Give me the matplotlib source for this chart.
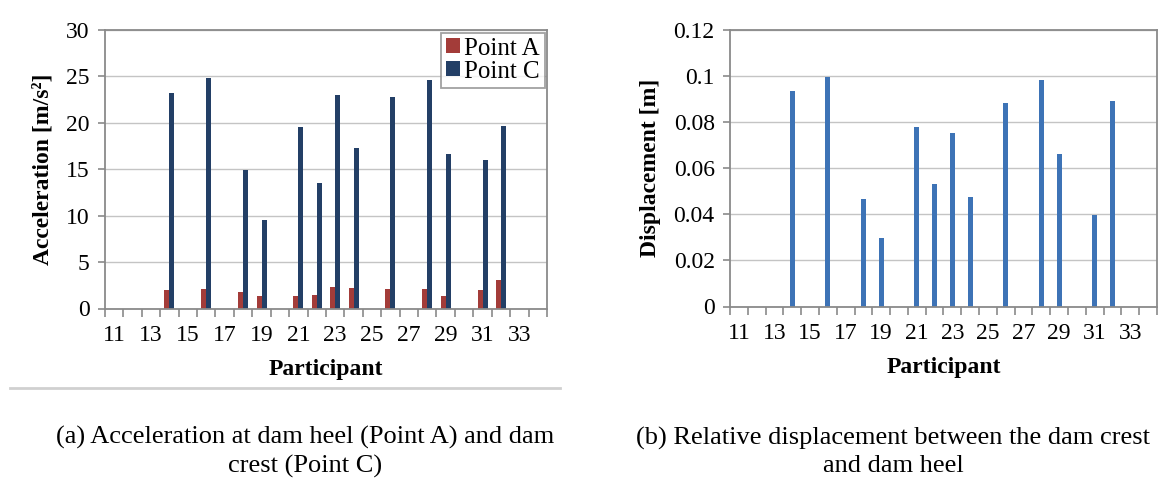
import matplotlib
matplotlib.use("Agg")
import matplotlib.pyplot as plt
from matplotlib.lines import Line2D

plt.rcParams['font.family'] = ['Liberation Serif', 'DejaVu Serif']

# ---- data ----
participants_all = list(range(11, 35))
participants = [14, 16, 18, 19, 21, 22, 23, 24, 26, 28, 29, 31, 32]
accel_point_a = [2.0, 2.1, 1.8, 1.3, 1.4, 1.5, 2.3, 2.2, 2.1, 2.1, 1.3, 2.0, 3.1]
accel_point_c = [23.2, 24.8, 14.9, 9.5, 19.6, 13.5, 23.0, 17.3, 22.8, 24.6, 16.6, 16.0, 19.7]
displacement = [0.0935, 0.0993, 0.0467, 0.0295, 0.0778, 0.0529, 0.0751, 0.0476,
                0.0883, 0.0982, 0.0662, 0.0397, 0.0890]
xtick_labels = [str(p) for p in range(11, 34, 2)]
acc_yticks = [0, 5, 10, 15, 20, 25, 30]
disp_yticks = [0, 0.02, 0.04, 0.06, 0.08, 0.1, 0.12]
disp_ytick_labels = ['0', '0.02', '0.04', '0.06', '0.08', '0.1', '0.12']
caption_a = "(a) Acceleration at dam heel (Point A) and dam\ncrest (Point C)"
caption_b = "(b) Relative displacement between the dam crest\nand dam heel"

W, H = 1158, 486
fig = plt.figure(figsize=(W / 100, H / 100), dpi=100)

spine_c = '#8a8a8a'
grid_c = '#c4c4c4'
red_c = '#a33c39'
navy_c = '#233f66'
blue_c = '#3d73b6'


def frac(x0, y0, x1, y1):
    return [x0 / W, 1 - y1 / H, (x1 - x0) / W, (y1 - y0) / H]


def style_axes(ax, yticks, ylabels, ylabel):
    ax.set_xlim(participants_all[0] - 0.5, participants_all[-1] + 0.5)
    bounds = [p - 0.5 for p in participants_all] + [participants_all[-1] + 0.5]
    ax.set_xticks(bounds)
    ax.set_xticklabels([])
    ax.set_xticks([int(s) for s in xtick_labels], minor=True)
    ax.set_xticklabels(xtick_labels, minor=True)
    ax.tick_params(axis='x', which='major', length=6, width=1.2, color=spine_c, direction='out')
    ax.tick_params(axis='x', which='minor', length=0, labelsize=17, pad=12)
    ax.set_yticks(yticks)
    ax.set_yticklabels(ylabels)
    ax.tick_params(axis='y', length=5, width=1.2, color=spine_c, labelsize=17, pad=6)
    ax.set_ylim(yticks[0], yticks[-1])
    for s in ax.spines.values():
        s.set_color(spine_c)
        s.set_linewidth(1.3)
    ax.grid(axis='y', color=grid_c, linewidth=1.0)
    ax.set_axisbelow(True)
    ax.set_xlabel('Participant', fontsize=17, fontweight='bold', labelpad=9)
    ax.set_ylabel(ylabel, fontsize=17, fontweight='bold', labelpad=9)


# ---- left chart ----
ax1 = fig.add_axes(frac(105, 30, 547, 308.5))
bw = 0.27
ax1.bar([p - bw / 2 for p in participants], accel_point_a, width=bw, color=red_c, label='Point A')
ax1.bar([p + bw / 2 for p in participants], accel_point_c, width=bw, color=navy_c, label='Point C')
style_axes(ax1, acc_yticks, [str(t) for t in acc_yticks], 'Acceleration [m/s²]')
leg = ax1.legend(loc='upper right', fontsize=18, frameon=True, fancybox=False,
                 handlelength=0.55, handleheight=0.55, handletextpad=0.15,
                 borderpad=0.2, labelspacing=0.05, borderaxespad=0.1)
leg.get_frame().set_edgecolor(spine_c)
leg.get_frame().set_linewidth(1.3)

# ---- right chart ----
ax2 = fig.add_axes(frac(730, 29.5, 1157, 306.5))
ax2.bar(participants, displacement, width=0.27, color=blue_c)
style_axes(ax2, disp_yticks, disp_ytick_labels, 'Displacement [m]')

# chart-area bottom border of left chart
fig.add_artist(Line2D([10 / W, 560 / W], [1 - 388 / H, 1 - 388 / H],
                      color='#d0d0d0', linewidth=2))

# captions
fig.text(305 / W, 1 - 452 / H, caption_a, ha='center', va='center',
         fontsize=19, linespacing=1.3)
fig.text(893 / W, 1 - 452 / H, caption_b, ha='center', va='center',
         fontsize=19, linespacing=1.3)

fig.savefig('out.png', dpi=100)
